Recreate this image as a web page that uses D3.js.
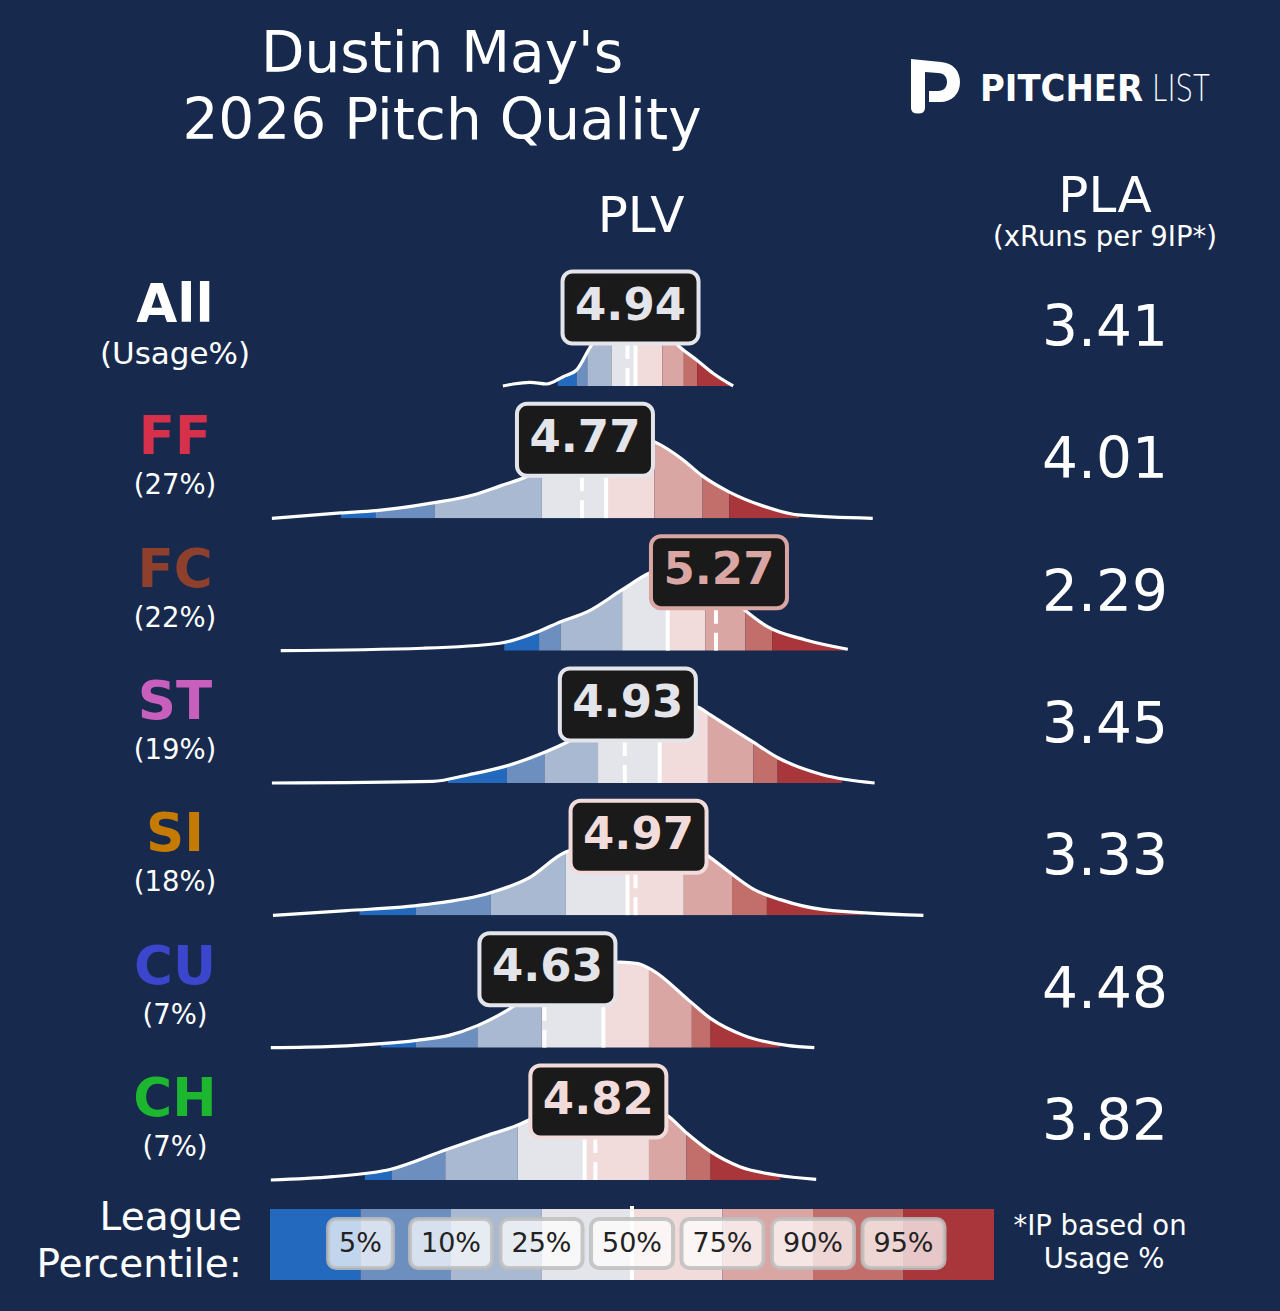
<!DOCTYPE html>
<html>
<head>
<meta charset="utf-8">
<script src="https://cdn.jsdelivr.net/npm/d3@7"></script>
<style>
  html, body { margin: 0; padding: 0; background: #172a4d; }
  svg { display: block; }
  text { font-family: "DejaVu Sans", sans-serif; }
</style>
</head>
<body>
<svg id="chart" width="1280" height="1311"></svg>
<script>
// ---------------- DATA ----------------
const pitchTypes = ["All", "FF", "FC", "ST", "SI", "CU", "CH"];
const usageLabels = ["(Usage%)", "(27%)", "(22%)", "(19%)", "(18%)", "(7%)", "(7%)"];
const pitchColors = ["#ffffff", "#d6304b", "#8f402c", "#c95fbd", "#c57a02", "#3b46cc", "#1cb72f"];
const plvValues = [4.94, 4.77, 5.27, 4.93, 4.97, 4.63, 4.82];
const plaValues = [3.41, 4.01, 2.29, 3.45, 3.33, 4.48, 3.82];

// League percentile cut points (PLV): start, 5, 10, 25, 50, 75, 90, 95, end
const cutAll = [4.68, 4.75, 4.79, 4.88, 4.97, 5.07, 5.15, 5.20, 5.33];
const cutFF  = [3.87, 4.00, 4.22, 4.62, 4.86, 5.04, 5.22, 5.32, 5.58];
const cutFC  = [4.48, 4.61, 4.69, 4.92, 5.09, 5.23, 5.38, 5.48, 5.76];
const cutST  = [4.27, 4.49, 4.63, 4.83, 5.06, 5.24, 5.41, 5.50, 5.74];
const cutSI  = [3.94, 4.15, 4.43, 4.71, 4.94, 5.15, 5.33, 5.46, 5.82];
const cutCU  = [4.02, 4.15, 4.38, 4.62, 4.85, 5.02, 5.18, 5.25, 5.51];
const cutCH  = [3.96, 4.06, 4.26, 4.53, 4.78, 5.02, 5.16, 5.25, 5.51];

// League PLV density curves: [PLV, relative density]
const densAll = [[4.475,0],[4.514,0.02],[4.576,0.037],[4.638,0.02],[4.700,0.093],[4.750,0.16],[4.800,0.387],[4.875,0.65],[4.957,0.80],[5.043,0.65],[5.136,0.387],[5.198,0.26],[5.259,0.127],[5.334,0]];
const densFF  = [[3.613,0],[3.870,0.054],[4.003,0.077],[4.213,0.154],[4.378,0.244],[4.468,0.327],[4.558,0.41],[4.688,0.62],[4.837,0.80],[4.949,0.84],[5.045,0.76],[5.143,0.594],[5.218,0.427],[5.322,0.26],[5.442,0.127],[5.576,0.034],[5.855,0]];
const densFC  = [[3.646,0],[4.177,0.024],[4.463,0.074],[4.606,0.19],[4.691,0.29],[4.791,0.39],[4.919,0.607],[5.020,0.774],[5.136,0.86],[5.267,0.68],[5.377,0.407],[5.462,0.24],[5.605,0.107],[5.762,0.014]];
const densST  = [[3.613,0],[4.213,0.016],[4.348,0.083],[4.483,0.166],[4.633,0.31],[4.708,0.40],[4.838,0.60],[4.987,0.76],[5.136,0.80],[5.210,0.75],[5.248,0.683],[5.405,0.416],[5.503,0.25],[5.668,0.083],[5.862,0]];
const densSI  = [[3.617,0],[3.892,0.047],[4.184,0.107],[4.426,0.224],[4.572,0.374],[4.702,0.624],[4.733,0.657],[4.837,0.80],[4.987,0.86],[5.136,0.78],[5.243,0.59],[5.316,0.44],[5.413,0.257],[5.510,0.157],[5.672,0.057],[6.044,0]];
const densCU  = [[3.609,0],[3.840,0.013],[4.152,0.073],[4.274,0.123],[4.382,0.223],[4.491,0.373],[4.613,0.60],[4.763,0.78],[4.912,0.856],[4.979,0.84],[5.034,0.773],[5.169,0.473],[5.251,0.29],[5.373,0.123],[5.535,0.023],[5.637,0]];
const densCH  = [[3.609,0],[3.840,0.033],[4.057,0.107],[4.260,0.30],[4.410,0.44],[4.531,0.55],[4.572,0.60],[4.688,0.74],[4.837,0.82],[4.987,0.78],[5.095,0.633],[5.162,0.467],[5.250,0.283],[5.359,0.133],[5.495,0.05],[5.644,0.007]];

const percentileLabels = ["5%", "10%", "25%", "50%", "75%", "90%", "95%"];

// ---------------- STYLE ----------------
const segColors = ["#2369bd", "#6c8fc0", "#a9b9d1", "#e4e5ea", "#f2dcdb", "#daa6a3", "#c26e6a", "#a8363a"];
const bg = "#172a4d";

const cuts = [cutAll, cutFF, cutFC, cutST, cutSI, cutCU, cutCH];
const dens = [densAll, densFF, densFC, densST, densSI, densCU, densCH];

const svg = d3.select("#chart");
svg.append("rect").attr("width", 1280).attr("height", 1311).attr("fill", bg);

// scales
const x = d3.scaleLinear().domain([3.6, 6.1]).range([268.4, 938.4]);
const rowBase = d3.scaleLinear().domain([0, 6]).range([386, 1180]);
const h = d3.scaleLinear().domain([0, 1]).range([0, 100]);

// ---------------- TITLE ----------------
svg.append("text").attr("x", 442).attr("y", 72).attr("text-anchor", "middle")
  .attr("font-size", 56.5).attr("fill", "#fff").text("Dustin May's");
svg.append("text").attr("x", 442).attr("y", 139).attr("text-anchor", "middle")
  .attr("font-size", 56.5).attr("fill", "#fff").text("2026 Pitch Quality");

svg.append("text").attr("x", 641).attr("y", 232).attr("text-anchor", "middle")
  .attr("font-size", 50).attr("fill", "#fff").text("PLV");
svg.append("text").attr("x", 1105).attr("y", 212).attr("text-anchor", "middle")
  .attr("font-size", 50).attr("fill", "#fff").text("PLA");
svg.append("text").attr("x", 1105).attr("y", 246).attr("text-anchor", "middle")
  .attr("font-size", 27.5).attr("fill", "#fff").text("(xRuns per 9IP*)");

// ---------------- LOGO ----------------
const logo = svg.append("g");
logo.append("path")
  .attr("d", "M911,59 L941,62 C953,63 960,71 960,82 C960,94 952,102 940,102 L929,102 L929,91 L938,91 C944,91 947,87 947,82 C947,77 944,73 938,73 L925,72 L925,108 Q925,113.5 918,113.5 Q911,113.5 911,108 Z")
  .attr("fill", "#fff");
logo.append("text").attr("x", 980).attr("y", 101)
  .attr("font-family", "Lato, 'Open Sans', sans-serif").attr("font-weight", 700)
  .attr("font-size", 37).attr("fill", "#fff")
  .attr("textLength", 163).attr("lengthAdjust", "spacingAndGlyphs").text("PITCHER");
logo.append("text").attr("x", 1152).attr("y", 101)
  .attr("font-family", "Lato, 'Open Sans', sans-serif").attr("font-weight", 300)
  .attr("font-size", 37).attr("fill", "#fff")
  .attr("textLength", 58).attr("lengthAdjust", "spacingAndGlyphs").text("LIST");

// ---------------- ROWS ----------------
const defs = svg.append("defs");

pitchTypes.forEach((pt, i) => {
  const base = rowBase(i);
  const cut = cuts[i];
  const d = dens[i];
  const v = plvValues[i];

  const area = d3.area()
    .x(p => x(p[0])).y0(base).y1(p => base - h(p[1]))
    .curve(d3.curveMonotoneX);
  const line = d3.line()
    .x(p => x(p[0])).y(p => base - h(p[1]))
    .curve(d3.curveMonotoneX);

  defs.append("clipPath").attr("id", "clip" + i)
    .append("path").attr("d", area(d));

  const g = svg.append("g");
  const fillG = g.append("g").attr("clip-path", `url(#clip${i})`);
  for (let j = 0; j < 8; j++) {
    fillG.append("rect")
      .attr("x", x(cut[j])).attr("width", x(cut[j + 1]) - x(cut[j]))
      .attr("y", base - 130).attr("height", 130)
      .attr("fill", segColors[j]);
  }
  // median
  fillG.append("line")
    .attr("x1", x(cut[4])).attr("x2", x(cut[4]))
    .attr("y1", base).attr("y2", base - 130)
    .attr("stroke", "#fff").attr("stroke-width", 4);
  // pitcher value
  fillG.append("line")
    .attr("x1", x(v)).attr("x2", x(v))
    .attr("y1", base).attr("y2", base - 130)
    .attr("stroke", "#fff").attr("stroke-width", 4)
    .attr("stroke-dasharray", "18,9");

  g.append("path").attr("d", line(d))
    .attr("fill", "none").attr("stroke", "#fff").attr("stroke-width", 3.2)
    .attr("stroke-linejoin", "round");

  // value badge
  let seg = d3.bisectRight(cut, v) - 1;
  seg = Math.max(0, Math.min(7, seg));
  const col = segColors[seg];
  const cx = x(v) + 3;
  const cy = base - 78.5;
  g.append("rect")
    .attr("x", cx - 68).attr("y", cy - 36).attr("width", 136).attr("height", 72)
    .attr("rx", 10).attr("ry", 10)
    .attr("fill", "#1a1a1a").attr("stroke", col).attr("stroke-width", 4);
  g.append("text").attr("x", cx).attr("y", cy + 12)
    .attr("text-anchor", "middle").attr("font-size", 45).attr("font-weight", "bold")
    .attr("fill", col).text(d3.format(".2f")(v));

  // left labels
  svg.append("text").attr("x", 175).attr("y", base - 64)
    .attr("text-anchor", "middle").attr("font-size", 53).attr("font-weight", "bold")
    .attr("fill", pitchColors[i]).text(pt);
  svg.append("text").attr("x", 175).attr("y", base - (i === 0 ? 22 : 24))
    .attr("text-anchor", "middle").attr("font-size", i === 0 ? 31 : 27.5)
    .attr("fill", "#fff").text(usageLabels[i]);

  // PLA
  svg.append("text").attr("x", 1105).attr("y", base - 40)
    .attr("text-anchor", "middle").attr("font-size", 56.5)
    .attr("fill", "#fff").text(d3.format(".2f")(plaValues[i]));
});

// ---------------- LEGEND ----------------
const lx = d3.scaleLinear().domain([0, 8]).range([270, 994]);
const leg = svg.append("g");
for (let j = 0; j < 8; j++) {
  leg.append("rect").attr("x", lx(j)).attr("width", lx(j + 1) - lx(j))
    .attr("y", 1209).attr("height", 71).attr("fill", segColors[j]);
}
leg.append("line").attr("x1", lx(4)).attr("x2", lx(4)).attr("y1", 1206).attr("y2", 1280)
  .attr("stroke", "#fff").attr("stroke-width", 4);

percentileLabels.forEach((lab, k) => {
  const cx = lx(k + 1);
  const gg = leg.append("g");
  const t = gg.append("text").attr("x", cx).attr("y", 1252)
    .attr("text-anchor", "middle").attr("font-size", 27).attr("fill", "#222")
    .text(lab);
  const tw = t.node().getComputedTextLength();
  gg.insert("rect", "text")
    .attr("x", cx - tw / 2 - 11).attr("width", tw + 22)
    .attr("y", 1219).attr("height", 49).attr("rx", 8).attr("ry", 8)
    .attr("fill", "rgba(255,255,255,0.72)")
    .attr("stroke", "rgba(190,190,190,0.85)").attr("stroke-width", 4);
});

svg.append("text").attr("x", 242).attr("y", 1230).attr("text-anchor", "end")
  .attr("font-size", 39).attr("fill", "#fff").text("League");
svg.append("text").attr("x", 242).attr("y", 1277).attr("text-anchor", "end")
  .attr("font-size", 39).attr("fill", "#fff").text("Percentile:");

svg.append("text").attr("x", 1100).attr("y", 1235).attr("text-anchor", "middle")
  .attr("font-size", 27.5).attr("fill", "#fff").text("*IP based on");
svg.append("text").attr("x", 1104).attr("y", 1268).attr("text-anchor", "middle")
  .attr("font-size", 27.5).attr("fill", "#fff").text("Usage %");
</script>
</body>
</html>
